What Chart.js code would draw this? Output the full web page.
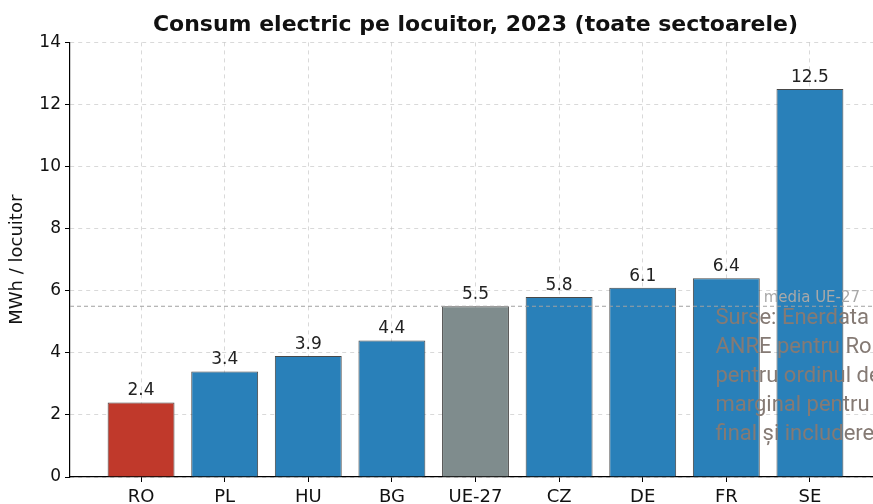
<!DOCTYPE html>
<html>
<head>
<meta charset="utf-8">
<script src="https://cdn.jsdelivr.net/npm/chart.js@4"></script>
<style>
  html, body { margin: 0; padding: 0; background: #fff; overflow: hidden; }
  #wrap { width: 881px; height: 504px; }
</style>
</head>
<body>
<div id="wrap"><canvas id="chart" width="881" height="504"></canvas></div>
<script>
const categories = ['RO', 'PL', 'HU', 'BG', 'UE-27', 'CZ', 'DE', 'FR', 'SE'];
const values = [2.4, 3.4, 3.9, 4.4, 5.5, 5.8, 6.1, 6.4, 12.5];
const euAverage = 5.5;
const yTicks = [0, 2, 4, 6, 8, 10, 12, 14];
const sourceLines = [
    'Surse: Enerdata / Eurostat; date',
    'ANRE pentru România; valori rotunjite',
    'pentru ordinul de mărime; efect',
    'marginal pentru consumul',
    'final și includerea pierderilor'
];

const barColors = categories.map(c => c === 'RO' ? '#c0392b' : c === 'UE-27' ? '#7f8c8d' : '#2980b9');

// value labels, average line and the overlaid source note
const overlay = {
    id: 'overlay',
    afterDatasetsDraw(chart) {
        const { ctx, chartArea, scales: { x, y } } = chart;
        ctx.save();
        // average line
        const ay = y.getPixelForValue(euAverage);
        ctx.strokeStyle = '#a0a0a0';
        ctx.lineWidth = 1;
        ctx.setLineDash([4, 3]);
        ctx.beginPath();
        ctx.moveTo(chartArea.left, ay);
        ctx.lineTo(chartArea.right, ay);
        ctx.stroke();
        ctx.setLineDash([]);

        // labels on top of bars
        ctx.fillStyle = '#222';
        ctx.font = '17px "DejaVu Sans"';
        ctx.textAlign = 'center';
        ctx.textBaseline = 'bottom';
        values.forEach((v, i) => {
            ctx.fillText(v.toFixed(1), x.getPixelForValue(i), y.getPixelForValue(v) - 3);
        });

        // average label
        ctx.fillStyle = '#a8a8a8';
        ctx.font = '15px "DejaVu Sans"';
        ctx.textAlign = 'right';
        ctx.textBaseline = 'bottom';
        ctx.fillText('media UE-27', x.getPixelForValue(8.6), ay - 1);

        // source note
        ctx.fillStyle = '#857a74';
        ctx.font = '22px Roboto';
        ctx.textAlign = 'left';
        ctx.textBaseline = 'alphabetic';
        sourceLines.forEach((line, i) => {
            ctx.fillText(line, x.getPixelForValue(6.87), 324 + i * 29);
        });
        ctx.restore();
    }
};

const gridStyle = {
    color: 'rgba(185,185,185,0.55)',
    offset: false,
    tickColor: '#000',
    tickBorderDash: [],
    tickLength: 5,
    lineWidth: 1
};
const borderStyle = { display: true, color: '#000', width: 1.2, dash: [4, 4] };

new Chart(document.getElementById('chart'), {
    type: 'bar',
    data: {
        datasets: [{
            data: values.map((v, i) => ({ x: i, y: v })),
            backgroundColor: barColors,
            borderColor: 'rgba(40,40,40,0.85)',
            borderWidth: 1,
            barPercentage: 0.8,
            categoryPercentage: 1
        }]
    },
    options: {
        responsive: false,
        animation: false,
        layout: { padding: 0 },
        plugins: {
            legend: { display: false },
            tooltip: { enabled: false },
            title: {
                display: true,
                fullSize: false,
                text: 'Consum electric pe locuitor, 2023 (toate sectoarele)',
                color: '#111',
                font: { family: 'DejaVu Sans', size: 22, weight: 'bold' },
                padding: { top: 12, bottom: 4 }
            }
        },
        scales: {
            x: {
                type: 'linear',
                min: -0.85,
                max: 8.85,
                z: 1,
                offset: false,
                grid: gridStyle,
                border: borderStyle,
                afterFit: s => { s.height = 27; },
                afterBuildTicks: s => { s.ticks = categories.map((c, i) => ({ value: i })); },
                ticks: {
                    autoSkip: false,
                    maxRotation: 0,
                    padding: 5,
                    color: '#111',
                    font: { family: 'DejaVu Sans', size: 18 },
                    callback: v => categories[v]
                }
            },
            y: {
                min: 0,
                max: 14,
                z: 1,
                grid: gridStyle,
                border: borderStyle,
                afterFit: s => { s.width = 70; },
                afterBuildTicks: s => { s.ticks = yTicks.map(v => ({ value: v })); },
                ticks: {
                    padding: 4,
                    color: '#111',
                    font: { family: 'DejaVu Sans', size: 17 }
                },
                title: {
                    display: true,
                    text: 'MWh / locuitor',
                    color: '#111',
                    font: { family: 'DejaVu Sans', size: 18 },
                    padding: { top: 7, bottom: 0 }
                }
            }
        }
    },
    plugins: [overlay]
});
</script>
</body>
</html>
